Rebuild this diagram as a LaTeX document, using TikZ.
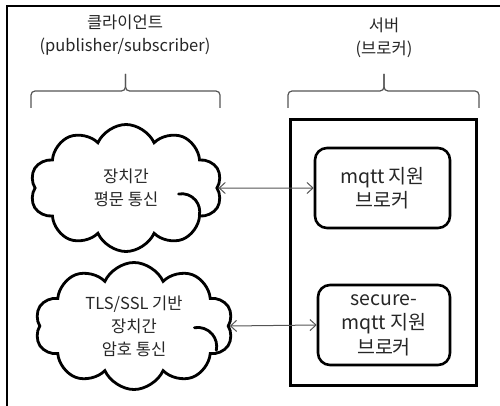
\documentclass[tikz,border=0pt]{standalone}
\usepackage{fontspec}
\setmainfont{Noto Sans CJK KR}
\usetikzlibrary{shapes.symbols,arrows.meta}
\definecolor{txt}{HTML}{262626}
\definecolor{wire}{HTML}{555555}
\begin{document}
\begin{tikzpicture}[x=1pt,y=-1pt,
  every node/.style={font=\fontsize{16.5}{23}\selectfont, text=txt, align=center},
  puff/.style={cloud, draw=black, line width=2.8pt, cloud puffs=10,
    cloud puff arc=132, aspect=1.5, inner sep=0pt},
  curl/.style={draw=black, line width=2.8pt, line cap=round},
  broker/.style={draw=black, line width=2.6pt, rounded corners=12pt,
    font=\fontsize{19.5}{24.5}\selectfont},
  bracket/.style={draw=wire, line width=1.2pt, rounded corners=4pt},
  link/.style={draw=wire, line width=1pt,
    {Straight Barb[length=6pt,width=11pt]}-{Straight Barb[length=6pt,width=11pt]}}
]
\useasboundingbox (0,0) rectangle (500,406);

% outer frame (top and left edges only)
\draw[line width=1.4pt, black] (7,406) -- (7,6) -- (500,6);

% headings
\node (hclient) at (125,35) {클라이언트\\(publisher/subscriber)};
\node (hserver) at (384,38) {서버\\(브로커)};

% braces under the headings
\draw[bracket] (31,108) -- (31,91) -- (125.5,91) -- (125.5,74);
\draw[bracket] (220,108) -- (220,91) -- (125.5,91) -- (125.5,74);
\draw[bracket] (288,108) -- (288,91) -- (384,91) -- (384,74);
\draw[bracket] (479,108) -- (479,91) -- (384,91) -- (384,74);

% server enclosure
\node[draw=black, line width=3pt, minimum width=186pt, minimum height=265pt]
  (server) at (383,252.5) {};

% brokers
\node[broker, minimum width=135pt, minimum height=80pt] (b1) at (382.5,188)
  {mqtt 지원\\브로커};
\node[broker, minimum width=132pt, minimum height=80pt] (b2) at (384,325)
  {secure-\\mqtt 지원\\브로커};

% client clouds
\node[puff, minimum width=192pt, minimum height=127pt] (c1) at (126,188)
  {장치간\\평문 통신};
\node[puff, minimum width=198pt, minimum height=127pt] (c2) at (134,326)
  {TLS/SSL 기반\\장치간\\암호 통신};

% inner curls of the clouds (y axis points down, so 270 is the top)
\draw[curl] ([shift={(52.6,6)}]c1.center) arc[start angle=260, end angle=372, radius=18];
\draw[curl] ([shift={(60.4,1.7)}]c2.center) arc[start angle=260, end angle=372, radius=19];

% links
\draw[link] (c1.east) -- (b1.west);
\draw[link] (c2.east) -- (b2.west);
\end{tikzpicture}
\end{document}
